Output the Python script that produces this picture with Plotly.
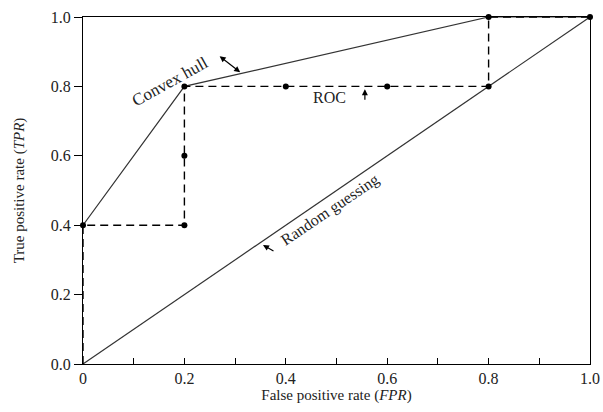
import plotly.graph_objects as go

# ROC step curve (dashed)
roc_fpr = [0.0, 0.0, 0.2, 0.2, 0.2, 0.4, 0.6, 0.8, 0.8, 1.0]
roc_tpr = [0.0, 0.4, 0.4, 0.6, 0.8, 0.8, 0.8, 0.8, 1.0, 1.0]
# ROC points (dots)
pt_fpr = [0.0, 0.2, 0.2, 0.2, 0.4, 0.6, 0.8, 0.8, 1.0]
pt_tpr = [0.4, 0.4, 0.6, 0.8, 0.8, 0.8, 0.8, 1.0, 1.0]
# Convex hull
hull_fpr = [0.0, 0.2, 0.8, 1.0]
hull_tpr = [0.4, 0.8, 1.0, 1.0]
# Random guessing diagonal
rand_fpr = [0.0, 1.0]
rand_tpr = [0.0, 1.0]

x_tickvals = [0, 0.2, 0.4, 0.6, 0.8, 1.0]
x_ticktext = ["0", "0.2", "0.4", "0.6", "0.8", "1.0"]
y_tickvals = [0, 0.2, 0.4, 0.6, 0.8, 1.0]
y_ticktext = ["0.0", "0.2", "0.4", "0.6", "0.8", "1.0"]

FONT = "Liberation Serif, Times New Roman, serif"

fig = go.Figure()
fig.add_trace(go.Scatter(x=rand_fpr, y=rand_tpr, mode="lines",
                         line=dict(color="#333", width=1.2), showlegend=False))
fig.add_trace(go.Scatter(x=hull_fpr, y=hull_tpr, mode="lines",
                         line=dict(color="#333", width=1.2), showlegend=False))
fig.add_trace(go.Scatter(x=roc_fpr, y=roc_tpr, mode="lines",
                         line=dict(color="black", width=1.4, dash="8px,5px"), showlegend=False))
fig.add_trace(go.Scatter(x=pt_fpr, y=pt_tpr, mode="markers",
                         marker=dict(color="black", size=6), showlegend=False, cliponaxis=False))

fig.update_layout(
    width=603, height=412,
    margin=dict(l=83, r=13, t=17, b=48),
    paper_bgcolor="white", plot_bgcolor="white",
    font=dict(family=FONT, color="#222"),
    xaxis=dict(range=[0, 1], tickvals=x_tickvals, ticktext=x_ticktext, automargin=False,
               ticks="inside", ticklen=6, tickwidth=1.2, tickcolor="black",
               minor=dict(dtick=0.1, tick0=0, ticks="inside", ticklen=6, tickwidth=1.2, tickcolor="black"),
               showline=True, linecolor="black", linewidth=1.2, mirror=True,
               showgrid=False, zeroline=False,
               tickfont=dict(size=16, family=FONT, color="#222"),
               title=dict(text="False positive rate (<i>FPR</i>)", font=dict(size=15, family=FONT, color="#222"), standoff=3)),
    yaxis=dict(range=[0, 1], tickvals=y_tickvals, ticktext=y_ticktext, automargin=False,
               ticks="outside", ticklen=8, tickwidth=1.2, tickcolor="black",
               showline=True, linecolor="black", linewidth=1.2, mirror=True,
               showgrid=False, zeroline=False,
               tickfont=dict(size=16, family=FONT, color="#222"),
               title=dict(text="True positive rate (<i>TPR</i>)", font=dict(size=15, family=FONT, color="#222"), standoff=22)),
)

fig.add_annotation(x=0.172, y=0.815, xref="x", yref="y", text="Convex hull", showarrow=False,
                   textangle=-29, font=dict(size=17, family=FONT, color="#222"))
fig.add_annotation(x=0.31, y=0.841, ax=-22, ay=-17, xref="x", yref="y", axref="pixel", ayref="pixel",
                   text="", showarrow=True, arrowhead=2, arrowside="end+start", arrowsize=1, arrowwidth=1.2,
                   arrowcolor="black")
fig.add_annotation(x=0.487, y=0.769, xref="x", yref="y", text="ROC", showarrow=False,
                   font=dict(size=16, family=FONT, color="#222"))
fig.add_annotation(x=0.556, y=0.792, ax=0, ay=12, xref="x", yref="y", axref="pixel", ayref="pixel",
                   text="", showarrow=True, arrowhead=2, arrowsize=1, arrowwidth=1.2, arrowcolor="black")
fig.add_annotation(x=0.487, y=0.444, xref="x", yref="y", text="Random guessing", showarrow=False,
                   textangle=-34, font=dict(size=16, family=FONT, color="#222"))
fig.add_annotation(x=0.355, y=0.343, ax=12, ay=7, xref="x", yref="y", axref="pixel", ayref="pixel",
                   text="", showarrow=True, arrowhead=2, arrowsize=1, arrowwidth=1.2, arrowcolor="black")

fig.write_html("out.html", config={"displayModeBar": False},
               post_script="document.body.style.margin='0';document.body.style.overflow='hidden';")
